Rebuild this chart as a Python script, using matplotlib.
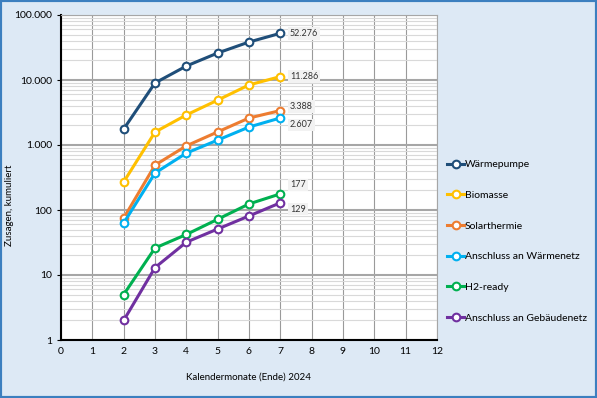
import numpy as np
import matplotlib.pyplot as plt
from matplotlib.ticker import FixedLocator, FuncFormatter, LogLocator, NullFormatter
from matplotlib.patches import Rectangle

plt.rcParams['font.family'] = ['Lato', 'DejaVu Sans']

# Daten (kumulierte Zusagen)
monate = [2, 3, 4, 5, 6, 7]
waermepumpe = [1760, 9000, 16400, 26000, 38400, 52276]
biomasse = [270, 1580, 2900, 4900, 8400, 11286]
solarthermie = [75, 490, 970, 1590, 2600, 3388]
waermenetz = [63, 370, 750, 1190, 1890, 2607]
h2_ready = [5, 26, 42, 72, 124, 177]
gebaeudenetz = [2, 13, 32, 51, 81, 129]

namen = ['Wärmepumpe', 'Biomasse', 'Solarthermie', 'Anschluss an Wärmenetz',
         'H2-ready', 'Anschluss an Gebäudenetz']
reihen = [waermepumpe, biomasse, solarthermie, waermenetz, h2_ready, gebaeudenetz]
farben = ['#1f4e79', '#ffc000', '#ed7d31', '#00b0f0', '#00b050', '#7030a0']
label_dy = [0, 0, 3, -5, 6.5, -4.5]  # Versatz der Endwert-Beschriftung in pt

bg = '#dde9f5'

fig = plt.figure(figsize=(5.97, 3.98), dpi=100, facecolor=bg)
fig.patches.append(Rectangle((0, 0), 1, 1, transform=fig.transFigure, fill=False,
                             edgecolor='#3c7fbf', linewidth=3, zorder=10))
ax = fig.add_axes([61 / 597, 1 - 340 / 398, 376 / 597, 325 / 398])
ax.set_facecolor('white')

for name, werte, farbe, dy in zip(namen, reihen, farben, label_dy):
    ax.plot(monate, werte, color=farbe, lw=2.2, marker='o', ms=5.5,
            mfc='white', mec=farbe, mew=1.5, label=name, zorder=3)
    txt = f'{werte[-1]:,}'.replace(',', '.')
    ax.annotate(txt, (monate[-1], werte[-1]), xytext=(7, dy), textcoords='offset points',
                fontsize=6.5, va='center', ha='left', color='#333333',
                bbox=dict(boxstyle='square,pad=0.2', fc='#f2f2f2', ec='none'))

ax.set_yscale('log')
ax.set_ylim(1, 100000)
ax.set_xlim(0, 12)
ax.xaxis.set_major_locator(FixedLocator(range(0, 13)))
ax.yaxis.set_major_locator(LogLocator(base=10, numticks=10))
ax.yaxis.set_minor_locator(LogLocator(base=10, subs=np.arange(2, 10), numticks=20))
ax.yaxis.set_minor_formatter(NullFormatter())
ax.yaxis.set_major_formatter(FuncFormatter(lambda v, p: f'{int(round(v)):,}'.replace(',', '.')))

ax.grid(True, which='major', axis='x', color='#9a9a9a', lw=0.8)
ax.grid(True, which='major', axis='y', color='#a6a6a6', lw=1.5)
ax.grid(True, which='minor', axis='y', color='#d9d9d9', lw=0.8)
ax.set_axisbelow(True)

for s in ['top', 'right']:
    ax.spines[s].set_color('#a6a6a6')
for s in ['left', 'bottom']:
    ax.spines[s].set_color('black')
    ax.spines[s].set_linewidth(1.5)
ax.tick_params(axis='both', which='major', labelsize=7.5, length=3, colors='black')
ax.tick_params(axis='y', which='minor', length=0)
ax.tick_params(axis='x', which='major', length=0, pad=5)

ax.set_xlabel('Kalendermonate (Ende) 2024', fontsize=7)
ax.xaxis.set_label_coords(0.5, -0.1)
ax.set_ylabel('Zusagen, kumuliert', fontsize=7)
ax.yaxis.set_label_coords(-0.125, 0.415)

fig.legend(loc='upper left', bbox_to_anchor=(443 / 597, 1 - 156 / 398), frameon=False,
           fontsize=7.5, handlelength=1.6, handletextpad=0.1, labelspacing=2.05,
           borderaxespad=0)

fig.savefig('out.png', dpi=100, facecolor=bg)
